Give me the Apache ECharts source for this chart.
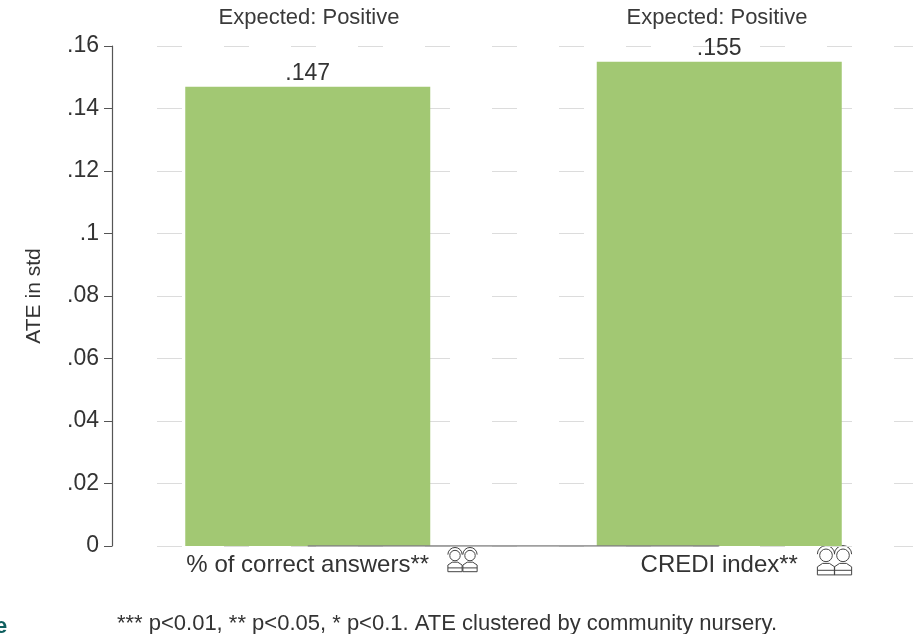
<!DOCTYPE html>
<html><head><meta charset="utf-8">
<style>html,body{margin:0;padding:0;background:#fff}#c{width:913px;height:634px}</style>
<script src="https://cdn.jsdelivr.net/npm/echarts@6/dist/echarts.min.js"></script>
</head><body><div id="c"></div>
<script>
const categories = ['% of correct answers**', 'CREDI index**'];
const ateValues = [0.147, 0.155];
const baseline = [0, 0];
const expectedLabels = ['Expected: Positive', 'Expected: Positive'];
const yTicks = {min: 0, max: 0.16, interval: 0.02};
const yTitle = 'ATE in std';
const footnote = '*** p<0.01, ** p<0.05, * p<0.1. ATE clustered by community nursery.';

const FONT = '"Liberation Sans", Arial, sans-serif';
const fmt = v => { const s = String(+(+v).toFixed(3)); return s.replace(/^0\./, '.'); };

function person(cx, top, s) {
  const st = {stroke: '#444', fill: 'none', lineWidth: 1};
  return [
    {type: 'circle', shape: {cx, cy: top + 9*s, r: 5.5*s}, style: st},
    {type: 'arc', shape: {cx, cy: top + 8*s, r: 7.5*s, startAngle: Math.PI, endAngle: 0}, style: st},
    {type: 'polyline', shape: {points: [[cx - 7.5*s, top + 26*s], [cx - 7.5*s, top + 19*s], [cx - 3*s, top + 16*s], [cx + 3*s, top + 16*s], [cx + 7.5*s, top + 19*s], [cx + 7.5*s, top + 26*s], [cx - 7.5*s, top + 26*s]]}, style: st},
    {type: 'line', shape: {x1: cx - 7.5*s, y1: top + 22*s, x2: cx + 7.5*s, y2: top + 22*s}, style: st}
  ];
}

const chart = echarts.init(document.getElementById('c'));
chart.setOption({
  backgroundColor: '#fff',
  animation: false,
  textStyle: {fontFamily: FONT},
  title: [
    {text: expectedLabels[0], left: 304, top: 2, textAlign: 'center', textStyle: {fontSize: 22, fontWeight: 'normal', color: '#3a3a3a', fontFamily: FONT}},
    {text: expectedLabels[1], left: 712, top: 2, textAlign: 'center', textStyle: {fontSize: 22, fontWeight: 'normal', color: '#3a3a3a', fontFamily: FONT}},
    {text: footnote, left: 442, top: 608, textAlign: 'center', textStyle: {fontSize: 22, fontWeight: 'normal', color: '#333', fontFamily: FONT}}
  ],
  grid: [
    {left: 102, top: 46, width: 823, height: 500, outerBoundsMode: 'none'},
    {left: 157, top: 46, right: 0, height: 500, outerBoundsMode: 'none'}
  ],
  xAxis: [
    {type: 'category', gridIndex: 0, data: categories, axisLine: {show: false}, axisTick: {show: false},
     axisLabel: {fontSize: 24, color: '#333', margin: 7, interval: 0}},
    {type: 'value', gridIndex: 1, show: false, min: 0, max: 1, splitLine: {show: false}}
  ],
  yAxis: [
    {type: 'value', gridIndex: 0, min: yTicks.min, max: yTicks.max, interval: yTicks.interval, offset: -10,
     name: yTitle, nameLocation: 'middle', nameRotate: 90, nameGap: 67,
     nameTextStyle: {fontSize: 21, color: '#333'},
     axisLine: {show: true, onZero: false, lineStyle: {color: '#555', width: 1.2}},
     axisTick: {show: true, length: 8, lineStyle: {color: '#555', width: 1}},
     axisLabel: {fontSize: 23, color: '#333', margin: 13, formatter: fmt},
     splitLine: {show: false}},
    {type: 'value', gridIndex: 1, min: yTicks.min, max: yTicks.max, interval: yTicks.interval,
     axisLine: {show: false}, axisTick: {show: false}, axisLabel: {show: false},
     splitLine: {show: true, lineStyle: {color: '#dcdcdc', width: 1, type: [25, 42]}}}
  ],
  series: [
    {type: 'bar', xAxisIndex: 0, yAxisIndex: 0, data: ateValues, barWidth: 245,
     itemStyle: {color: '#a2c873'},
     label: {show: true, position: 'top', distance: 1, fontSize: 23, color: '#333', formatter: p => fmt(p.value)}},
    {type: 'line', xAxisIndex: 0, yAxisIndex: 0, data: baseline, symbol: 'none', silent: true, z: 3,
     lineStyle: {color: '#808080', width: 1.5}}
  ],
  graphic: [
    ...person(455, 547, 0.95), ...person(470, 547, 0.95),
    ...person(826, 545, 1.15), ...person(843, 545, 1.15),
    {type: 'text', left: -5, top: 616, style: {text: 'e', fontSize: 22, fontWeight: 'bold', fill: '#0f5f5f', fontFamily: FONT}}
  ]
});
</script></body></html>
